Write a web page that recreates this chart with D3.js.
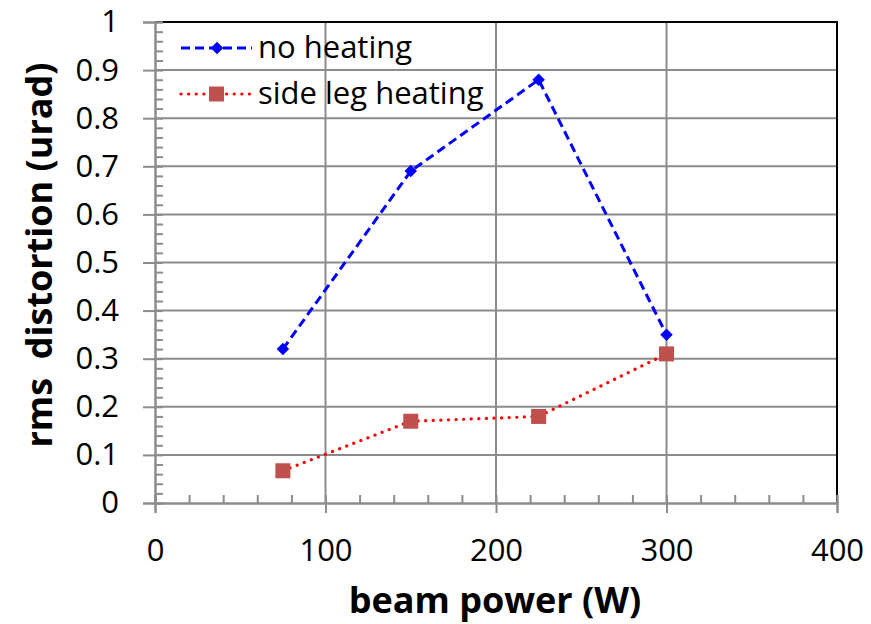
<!DOCTYPE html>
<html>
<head>
<meta charset="utf-8">
<script src="https://cdn.jsdelivr.net/npm/d3@7"></script>
<style>
body { margin: 0; background: #fff; }
text { font-family: "Open Sans", sans-serif; fill: #000; }
</style>
</head>
<body>
<div id="target"></div>
<script>
// data
const power = [75, 150, 225, 300];
const noHeating = [0.32, 0.69, 0.88, 0.35];
const sideLegHeating = [0.067, 0.17, 0.18, 0.31];
const seriesNames = ["no heating", "side leg heating"];
const xTicks = [0, 100, 200, 300, 400];
const yTicks = [0, 0.1, 0.2, 0.3, 0.4, 0.5, 0.6, 0.7, 0.8, 0.9, 1];

const W = 871, H = 624;
const margin = {top: 22, right: 34, bottom: 121, left: 155};
const width = W - margin.left - margin.right,
      height = H - margin.top - margin.bottom;

let svg = d3.select("#target").append("svg")
  .attr("width", W).attr("height", H);

let x = d3.scaleLinear().domain([0, 400]).range([0, width]);
let y = d3.scaleLinear().domain([0, 1]).range([height, 0]);

let g = svg.append("g").attr("transform", `translate(${margin.left},${margin.top})`);
const grey = "#8c8c8c";

// grid
g.selectAll(".vgrid").data(xTicks.slice(1)).enter().append("line")
  .attr("x1", d => x(d)).attr("x2", d => x(d))
  .attr("y1", 0).attr("y2", height)
  .attr("stroke", grey).attr("stroke-width", 2);
g.selectAll(".hgrid").data(yTicks.slice(1)).enter().append("line")
  .attr("x1", 0).attr("x2", width)
  .attr("y1", d => y(d)).attr("y2", d => y(d))
  .attr("stroke", grey).attr("stroke-width", 2);

// black frame top/right
g.append("path")
  .attr("d", `M0,0H${width}V${height}`)
  .attr("fill", "none").attr("stroke", "#000").attr("stroke-width", 2);

// minor ticks (inside)
let yAxisMinor = d3.axisRight(y).tickValues(d3.range(0, 1.001, 0.02)).tickSize(8).tickFormat("");
let xAxisMinor = d3.axisTop(x).tickValues(d3.range(0, 401, 20)).tickSize(8).tickFormat("");
g.append("g").call(yAxisMinor);
g.append("g").attr("transform", `translate(0,${height})`).call(xAxisMinor);

// major axes
let yAxis = d3.axisLeft(y).tickValues(yTicks).tickSize(12).tickPadding(24)
  .tickFormat(d => d === 0 || d === 1 ? d3.format("d")(d) : d3.format(".1f")(d));
let xAxis = d3.axisBottom(x).tickValues(xTicks).tickSize(10).tickPadding(26).tickFormat(d3.format("d"));
g.append("g").attr("class", "yaxis").call(yAxis);
g.append("g").attr("class", "xaxis").attr("transform", `translate(0,${height})`).call(xAxis);

g.selectAll(".domain, .tick line").attr("stroke", grey).attr("stroke-width", 2);
g.selectAll(".tick text").style("font-size", "31px").style("font-family", "Open Sans");

// series
let line = d3.line().x(d => x(d[0])).y(d => y(d[1]));
let blueData = power.map((p, i) => [p, noHeating[i]]);
let redData = power.map((p, i) => [p, sideLegHeating[i]]);

g.append("path").datum(redData).attr("d", line)
  .attr("fill", "none").attr("stroke", "#ff0000").attr("stroke-width", 3.2)
  .attr("stroke-dasharray", "0.1 7.5").attr("stroke-linecap", "round");
g.append("path").datum(blueData).attr("d", line)
  .attr("fill", "none").attr("stroke", "#0000ff").attr("stroke-width", 3)
  .attr("stroke-dasharray", "9 5");

let diamond = d3.symbol().type(d3.symbolDiamond2).size(100);
g.selectAll(".dia").data(blueData).enter().append("path")
  .attr("transform", d => `translate(${x(d[0])},${y(d[1])})`)
  .attr("d", diamond).attr("fill", "#0000ff");
g.selectAll(".sq").data(redData).enter().append("rect")
  .attr("x", d => x(d[0]) - 7.5).attr("y", d => y(d[1]) - 7.5)
  .attr("width", 15).attr("height", 15).attr("fill", "#c0504d");

// legend
let leg = svg.append("g");
let legY = [48, 94];
leg.append("line").attr("x1", 181).attr("x2", 252).attr("y1", legY[0]).attr("y2", legY[0])
  .attr("stroke", "#0000ff").attr("stroke-width", 3).attr("stroke-dasharray", "9 5");
leg.append("path").attr("transform", `translate(217,${legY[0]})`).attr("d", diamond).attr("fill", "#0000ff");
leg.append("line").attr("x1", 181).attr("x2", 252).attr("y1", legY[1]).attr("y2", legY[1])
  .attr("stroke", "#ff0000").attr("stroke-width", 3.2).attr("stroke-dasharray", "0.1 7.5").attr("stroke-linecap", "round");
leg.append("rect").attr("x", 209).attr("y", legY[1] - 7.5).attr("width", 15).attr("height", 15).attr("fill", "#c0504d");
leg.selectAll(".lt").data(seriesNames).enter().append("text")
  .attr("x", 258).attr("y", (d, i) => legY[i] + 10)
  .style("font-size", "31px").text(d => d);

// axis titles
svg.append("text").attr("x", 495).attr("y", 613).attr("text-anchor", "middle")
  .style("font-size", "36px").style("font-weight", "bold").text("beam power (W)");
svg.append("text").attr("transform", "translate(52,255) rotate(-90)").attr("text-anchor", "middle")
  .style("font-size", "36px").style("font-weight", "bold").style("white-space", "pre")
  .text("rms  distortion (urad)");
</script>
</body>
</html>
